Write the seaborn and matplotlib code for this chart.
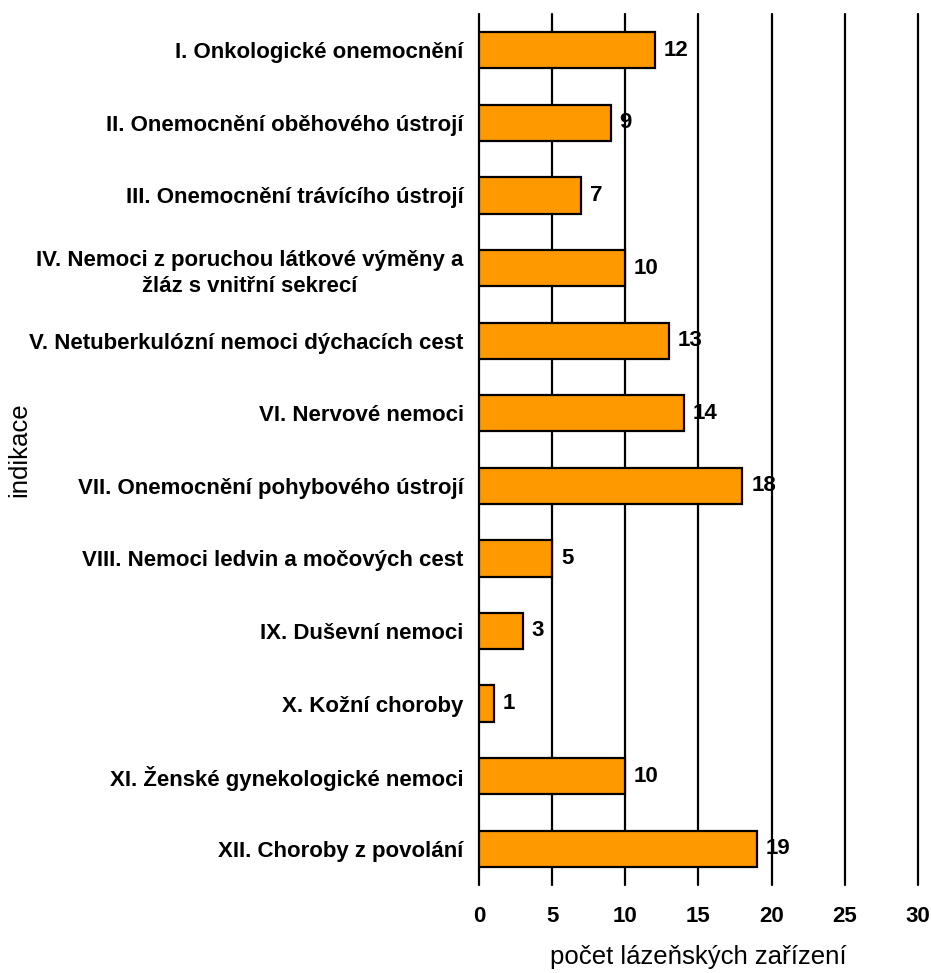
import matplotlib
matplotlib.use("Agg")
import matplotlib.pyplot as plt
import seaborn as sns
import pandas as pd

# data
indikace = [
    "I. Onkologické onemocnění",
    "II. Onemocnění oběhového ústrojí",
    "III. Onemocnění trávícího ústrojí",
    "IV. Nemoci z poruchou látkové výměny a\nžláz s vnitřní sekrecí",
    "V. Netuberkulózní nemoci dýchacích cest",
    "VI. Nervové nemoci",
    "VII. Onemocnění pohybového ústrojí",
    "VIII. Nemoci ledvin a močových cest",
    "IX. Duševní nemoci",
    "X. Kožní choroby",
    "XI. Ženské gynekologické nemoci",
    "XII. Choroby z povolání",
]
pocet = [12, 9, 7, 10, 13, 14, 18, 5, 3, 1, 10, 19]
xticks = [0, 5, 10, 15, 20, 25, 30]

df = pd.DataFrame({"indikace": indikace, "pocet": pocet})

sns.set_style("white")
plt.rcParams["font.family"] = ["Liberation Sans", "DejaVu Sans"]
plt.rcParams["text.color"] = "black"
plt.rcParams["xtick.color"] = "black"
plt.rcParams["ytick.color"] = "black"
plt.rcParams["axes.labelcolor"] = "black"

fig = plt.figure(figsize=(9.31, 9.73), dpi=100)
ax = fig.add_axes([0.5145, 0.0904, 0.4715, 0.8952])

ax.set_axisbelow(True)
ax.xaxis.grid(True, color="black", linewidth=1.6)
sns.barplot(data=df, x="pocet", y="indikace", orient="h", color="#FF9900",
            saturation=1, width=0.5, edgecolor="black", linewidth=1.6, ax=ax)

for i, v in enumerate(pocet):
    ax.text(v + 0.6, i, str(v), va="center", ha="left",
            fontsize=16, fontweight="bold")

ax.set_xlim(0, 30)
ax.set_ylim(len(indikace) - 0.5, -0.5)
ax.set_xticks(xticks)
ax.set_xticklabels([str(t) for t in xticks], fontsize=16, fontweight="bold")
for lab in ax.get_yticklabels():
    lab.set_fontsize(16)
    lab.set_fontweight("bold")
    lab.set_multialignment("center")
    lab.set_linespacing(1.35)
for gl in ax.get_xgridlines():
    gl.set_clip_on(False)
ax.tick_params(axis="x", length=0, pad=15)
ax.tick_params(axis="y", length=0, pad=11)
for s in ax.spines.values():
    s.set_visible(False)

ax.set_xlabel("počet lázeňských zařízení", fontsize=18.5, labelpad=13)
ax.set_ylabel("indikace", fontsize=18.5)
ax.yaxis.set_label_coords(0.034, 0.5375, transform=fig.transFigure)

fig.savefig("out.png", dpi=100)
plt.close(fig)
